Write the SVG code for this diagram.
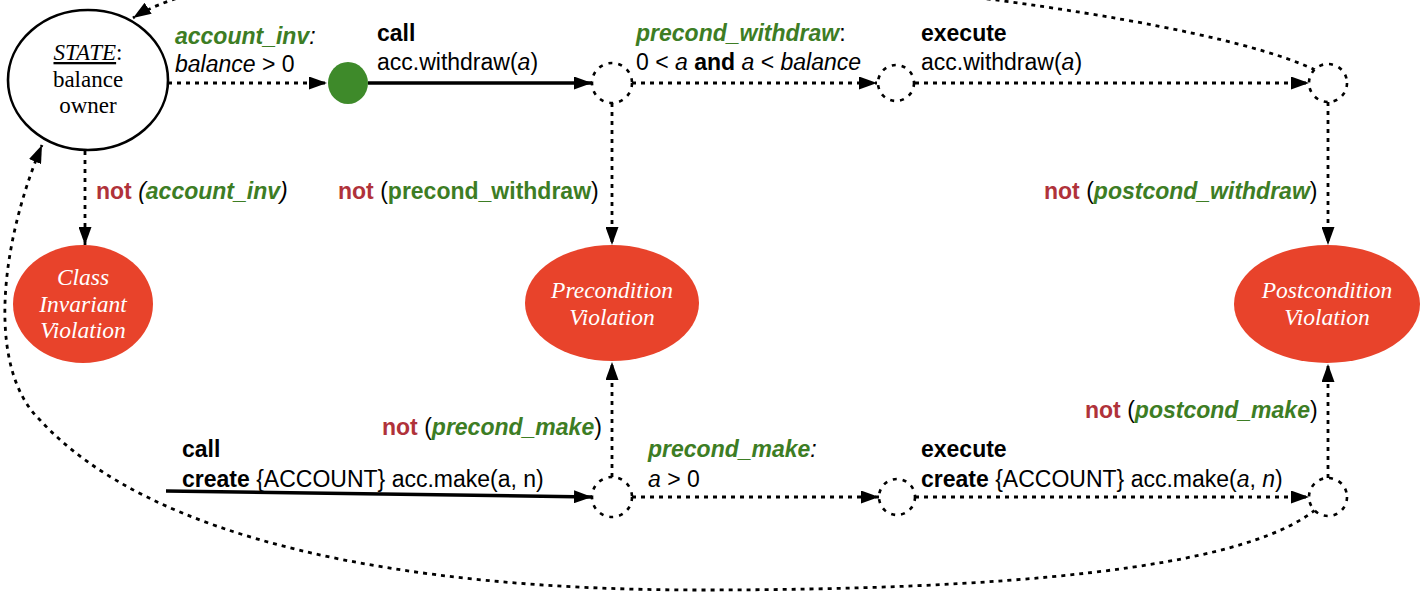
<svg xmlns="http://www.w3.org/2000/svg" width="1423" height="592" viewBox="0 0 1423 592">
<style>
  .t { font-family: "Liberation Sans", Arial, sans-serif; font-size: 23px; fill: #000; }
  .s { font-family: "Liberation Serif", "Times New Roman", serif; font-size: 23px; fill: #000; }
  .v { font-family: "Liberation Serif", "Times New Roman", serif; font-size: 23.5px; fill: #fff; font-style: italic; text-anchor: middle; }
  .b { font-weight: bold; }
  .i { font-style: italic; }
  .g { fill: #3d7d24; font-weight: bold; }
  .r { fill: #b0323a; font-weight: bold; }
  .dot { fill: none; stroke: #000; stroke-width: 2.8; stroke-dasharray: 4 5; }
  .solid { fill: none; stroke: #000; stroke-width: 3.5; }
  .node { fill: #fff; stroke: #000; stroke-width: 2.6; stroke-dasharray: 4 6; }
  .viol { fill: #e8432b; }
</style>
<defs>
  <marker id="arr" viewBox="0 0 18 13" refX="18" refY="6.5" markerWidth="18" markerHeight="13" markerUnits="userSpaceOnUse" orient="auto">
    <path d="M0,0 L18,6.5 L0,13 z" fill="#000"/>
  </marker>
</defs>
<rect width="1423" height="592" fill="#fff"/>

<g id="connectors">
  <line class="dot" x1="168" y1="83" x2="327" y2="83" marker-end="url(#arr)"/>
  <line class="solid" x1="368" y1="83" x2="592" y2="83" marker-end="url(#arr)"/>
  <line class="dot" x1="632" y1="83" x2="877" y2="83" marker-end="url(#arr)"/>
  <line class="dot" x1="915" y1="83" x2="1309" y2="83" marker-end="url(#arr)"/>
  <line class="dot" x1="85" y1="151" x2="85" y2="245" marker-end="url(#arr)"/>
  <line class="dot" x1="612" y1="103" x2="612" y2="245" marker-end="url(#arr)"/>
  <line class="dot" x1="1328" y1="102" x2="1328" y2="245" marker-end="url(#arr)"/>
  <line class="dot" x1="612" y1="477" x2="612" y2="362" marker-end="url(#arr)"/>
  <line class="dot" x1="1328" y1="478" x2="1328" y2="364" marker-end="url(#arr)"/>
  <line class="solid" x1="166" y1="491" x2="592" y2="497" marker-end="url(#arr)"/>
  <line class="dot" x1="632" y1="497" x2="879" y2="497" marker-end="url(#arr)"/>
  <line class="dot" x1="915" y1="497" x2="1309" y2="497" marker-end="url(#arr)"/>
  <path class="dot" d="M1315,70 C1150,-10 300,-90 133,18" marker-end="url(#arr)"/>
  <path class="dot" d="M1315,510 C1240,570 1000,590 700,590 C400,590 150,540 40,420 C-12,370 -2,250 42,145" marker-end="url(#arr)"/>
</g>

<g id="state">
  <ellipse cx="88" cy="80" rx="80" ry="70" fill="#fff" stroke="#000" stroke-width="2.6"/>
  <text class="s" x="88" y="60" text-anchor="middle"><tspan class="i" text-decoration="underline">STATE</tspan>:</text>
  <text class="s" x="88" y="87" text-anchor="middle">balance</text>
  <text class="s" x="88" y="113" text-anchor="middle">owner</text>
</g>

<g id="start">
  <ellipse cx="348" cy="83" rx="20" ry="21" fill="#3e8a2a"/>
</g>

<g id="n1"><circle class="node" cx="612" cy="83" r="20"/></g>
<g id="n2"><circle class="node" cx="896" cy="83" r="18"/></g>
<g id="n3"><circle class="node" cx="1328" cy="83" r="19"/></g>
<g id="n4"><circle class="node" cx="612" cy="497" r="20"/></g>
<g id="n5"><circle class="node" cx="897" cy="497" r="18"/></g>
<g id="n6"><circle class="node" cx="1328" cy="497" r="19"/></g>

<g id="classinv">
  <ellipse class="viol" cx="83" cy="304" rx="70" ry="59"/>
  <text class="v" x="83" y="285">Class</text>
  <text class="v" x="83" y="312">Invariant</text>
  <text class="v" x="83" y="338">Violation</text>
</g>
<g id="precond">
  <ellipse class="viol" cx="612" cy="303" rx="87" ry="58"/>
  <text class="v" x="612" y="298">Precondition</text>
  <text class="v" x="612" y="325">Violation</text>
</g>
<g id="postcond">
  <ellipse class="viol" cx="1327" cy="304" rx="93" ry="59"/>
  <text class="v" x="1327" y="298">Postcondition</text>
  <text class="v" x="1327" y="325">Violation</text>
</g>

<g id="labels">
  <text class="t" x="175" y="44"><tspan class="g i">account_inv</tspan><tspan class="i">:</tspan></text>
  <text class="t" x="175" y="72"><tspan class="i">balance</tspan> &gt; 0</text>

  <text class="t b" x="377" y="41">call</text>
  <text class="t" x="377" y="70">acc.withdraw(<tspan class="i">a</tspan>)</text>

  <text class="t" x="636" y="41"><tspan class="g i">precond_withdraw</tspan>:</text>
  <text class="t" x="636" y="70">0 &lt; <tspan class="i">a</tspan> <tspan class="b">and</tspan> <tspan class="i">a</tspan> &lt; <tspan class="i">balance</tspan></text>

  <text class="t b" x="921" y="41">execute</text>
  <text class="t" x="921" y="70">acc.withdraw(<tspan class="i">a</tspan>)</text>

  <text class="t" x="96" y="199"><tspan class="r">not</tspan><tspan class="i"> (</tspan><tspan class="g i">account_inv</tspan><tspan class="i">)</tspan></text>
  <text class="t" x="338" y="199"><tspan class="r">not</tspan> (<tspan class="g">precond_withdraw</tspan>)</text>
  <text class="t" x="1044" y="199"><tspan class="r">not</tspan> (<tspan class="g i">postcond_withdraw</tspan>)</text>

  <text class="t" x="382" y="435"><tspan class="r">not</tspan> (<tspan class="g i">precond_make</tspan>)</text>
  <text class="t" x="1085" y="418"><tspan class="r">not</tspan> (<tspan class="g i">postcond_make</tspan>)</text>

  <text class="t b" x="182" y="457">call</text>
  <text class="t" x="182" y="487"><tspan class="b">create</tspan> {ACCOUNT} acc.make(a, n)</text>

  <text class="t" x="648" y="457"><tspan class="g i">precond_make</tspan><tspan class="i">:</tspan></text>
  <text class="t" x="648" y="487"><tspan class="i">a</tspan> &gt; 0</text>

  <text class="t b" x="921" y="457">execute</text>
  <text class="t" x="921" y="487"><tspan class="b">create</tspan> {ACCOUNT} acc.make(<tspan class="i">a</tspan>, <tspan class="i">n</tspan>)</text>
</g>
</svg>
